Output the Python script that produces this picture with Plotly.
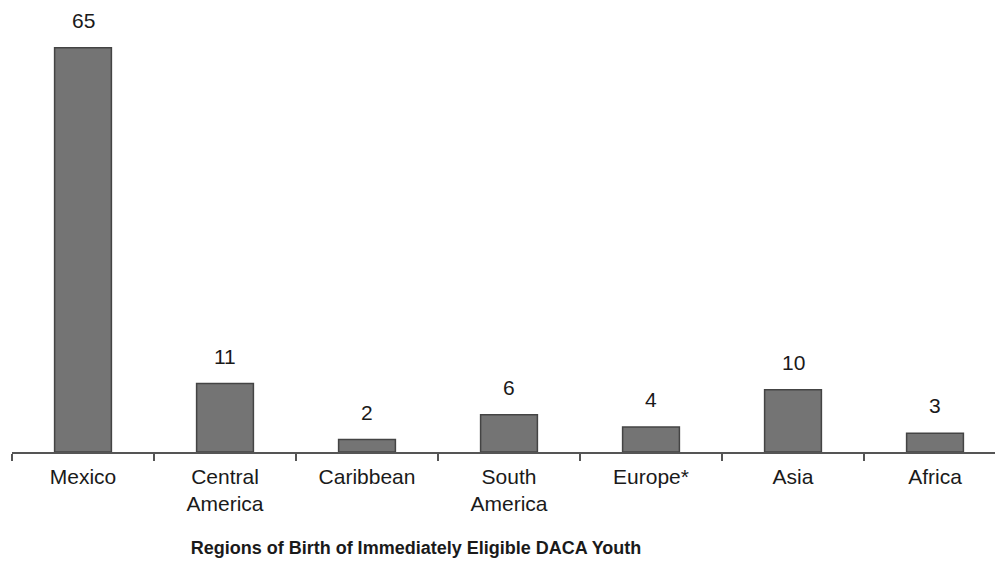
import plotly.graph_objects as go

categories = ["Mexico", "Central<br>America", "Caribbean", "South<br>America", "Europe*", "Asia", "Africa"]
values = [65, 11, 2, 6, 4, 10, 3]
title_text = "Regions of Birth of Immediately Eligible DACA Youth"

FONT = "Liberation Sans, Arial, sans-serif"

fig = go.Figure(go.Bar(
    x=categories, y=values, width=0.4,
    marker=dict(color="#747474", line=dict(color="#444444", width=1.5)),
    hoverinfo="skip",
))

for c, v in zip(categories, values):
    fig.add_annotation(x=c, y=v, text=str(v), showarrow=False, yanchor="bottom",
                       yshift=14, font=dict(family=FONT, size=21, color="#1a1a1a"))

fig.update_layout(
    width=995, height=563,
    margin=dict(l=12, r=0, t=0, b=111),
    plot_bgcolor="white", paper_bgcolor="white",
    showlegend=False,
    title=dict(text="<b>" + title_text + "</b>", x=416/995, xanchor="center",
               xref="container", yref="container", y=1 - 548/563, yanchor="middle",
               font=dict(family=FONT, size=18, color="#1a1a1a")),
    font=dict(family=FONT, size=21, color="#1a1a1a"),
)
fig.update_xaxes(range=[-0.5, -0.5 + 983/142], showline=True, linecolor="#555", linewidth=1.5,
                 ticks="outside", tickson="boundaries", ticklen=7, tickcolor="#555", tickwidth=1.5,
                 ticklabelstandoff=5,
                 showgrid=False, tickfont=dict(family=FONT, size=21, color="#1a1a1a"))
fig.update_yaxes(range=[0, 452/6.22], visible=False, showgrid=False)

fig.write_html("out.html")
